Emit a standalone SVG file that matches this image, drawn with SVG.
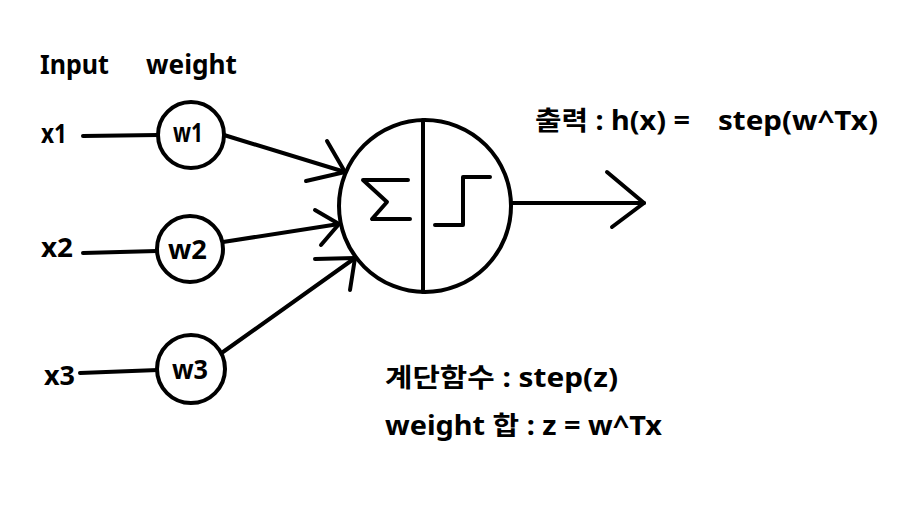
<svg xmlns="http://www.w3.org/2000/svg" width="903" height="509" viewBox="0 0 903 509">
<style>
.ln{stroke:#000;stroke-width:4;fill:none;stroke-linecap:round;stroke-linejoin:round}
.nd{stroke:#000;stroke-width:4;fill:#fff}
text{font-family:"Noto Sans","Noto Sans CJK KR",sans-serif;font-weight:bold;font-size:26px;fill:#000}
</style>
<rect width="903" height="509" fill="#fff"/>
<g id="labels">
<text x="40" y="74" textLength="69" lengthAdjust="spacingAndGlyphs">Input</text>
<text x="146" y="74" textLength="91" lengthAdjust="spacingAndGlyphs">weight</text>
</g>
<g id="connectors">
<line class="ln" x1="83" y1="136" x2="158" y2="135"/>
<line class="ln" x1="83" y1="253" x2="157" y2="251"/>
<line class="ln" x1="80" y1="373" x2="158" y2="370"/>
<polyline class="ln" points="224,135 345,172"/>
<polyline class="ln" points="327,141 345,172 306,181"/>
<polyline class="ln" points="223,242 339,224"/>
<polyline class="ln" points="315,210 339,224 321,245"/>
<polyline class="ln" points="223,352 355,258"/>
<polyline class="ln" points="315,259 355,258 350,290"/>
<line class="ln" x1="511" y1="203" x2="644" y2="203"/>
<polyline class="ln" points="607,172 644,203 612,227"/>
</g>
<g id="x1"><text x="41" y="143" textLength="26" lengthAdjust="spacingAndGlyphs">x1</text></g>
<g id="x2"><text x="41" y="257" textLength="32" lengthAdjust="spacingAndGlyphs">x2</text></g>
<g id="x3"><text x="44" y="385" textLength="31" lengthAdjust="spacingAndGlyphs">x3</text></g>
<g id="w1"><circle class="nd" cx="191" cy="135" r="33"/><text x="173" y="142" textLength="30" lengthAdjust="spacingAndGlyphs">w1</text></g>
<g id="w2"><circle class="nd" cx="190" cy="249" r="33"/><text x="168" y="259" textLength="39" lengthAdjust="spacingAndGlyphs">w2</text></g>
<g id="w3"><circle class="nd" cx="191" cy="369" r="34"/><text x="172" y="379" textLength="36" lengthAdjust="spacingAndGlyphs">w3</text></g>
<g id="neuron">
<circle class="nd" cx="425" cy="206" r="86"/>
<line class="ln" x1="423" y1="120" x2="423" y2="292"/>
<polyline class="ln" points="408,180 363,180 387,202 372,219 410,219"/>
<polyline class="ln" points="435,225 463,225 463,177 490,177"/>
</g>
<g id="output">
<text x="535" y="130"><tspan textLength="155" lengthAdjust="spacingAndGlyphs">출력 : h(x) =</tspan><tspan x="718" textLength="160" lengthAdjust="spacingAndGlyphs">step(w^Tx)</tspan></text>
</g>
<g id="notes">
<text x="385" y="387" textLength="233" lengthAdjust="spacingAndGlyphs">계단함수 : step(z)</text>
<text x="385" y="435" textLength="277" lengthAdjust="spacingAndGlyphs">weight 합 : z = w^Tx</text>
</g>
</svg>
